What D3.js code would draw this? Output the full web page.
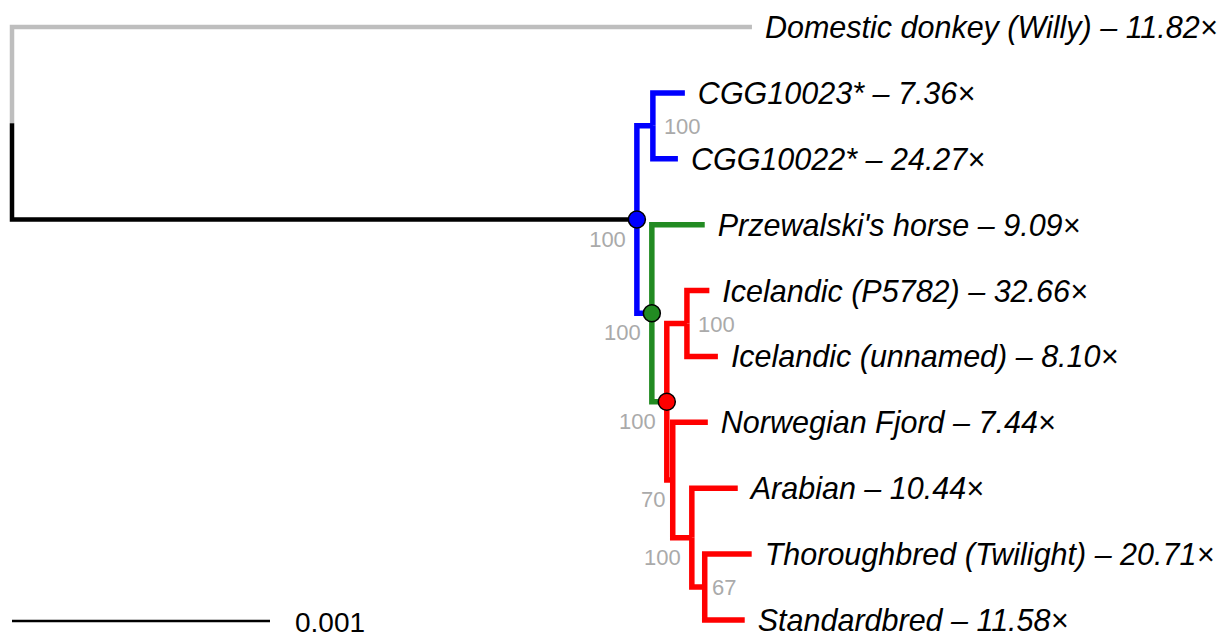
<!DOCTYPE html>
<html>
<head>
<meta charset="utf-8">
<script src="https://cdn.jsdelivr.net/npm/d3@7"></script>
<style>
  html, body { margin: 0; padding: 0; background: #fff; }
  svg { display: block; }
  .tip { font-family: "Liberation Sans", Arial, Helvetica, sans-serif; font-style: italic; }
  .support { font-family: "Liberation Sans", Arial, Helvetica, sans-serif; }
  .scale-text { font-family: "Liberation Sans", Arial, Helvetica, sans-serif; }
</style>
</head>
<body>
<svg id="tree" width="1231" height="637"></svg>
<script>
// Maximum-likelihood tree of whole horse genomes (branch lengths in substitutions/site)
const nodeIds = [
  "root", "donkey", "horses", "cgg", "cgg10023", "cgg10022",
  "caballus", "przewalski", "domestic", "icelandic", "icelandicP5782", "icelandicUnnamed",
  "n1", "norwegian", "n2", "arabian", "n3", "thoroughbred", "standardbred"
];
const parentIds = [
  "", "root", "root", "horses", "cgg", "cgg",
  "horses", "caballus", "caballus", "domestic", "icelandic", "icelandic",
  "domestic", "n1", "n1", "n2", "n2", "n3", "n3"
];
const branchLengths = [
  0, 0.002868, 0.002422, 0.000062, 0.000124, 0.000097,
  0.000058, 0.000205, 0.000058, 0.000078, 0.000087, 0.000120,
  0.000023, 0.000136, 0.000074, 0.000178, 0.000050, 0.000182, 0.000155
];
// branch group decides the colour of the edge leading into each node
const branchGroups = [
  "", "outgroup", "base", "horses", "horses", "horses",
  "horses", "caballus", "caballus", "domestic", "domestic", "domestic",
  "domestic", "domestic", "domestic", "domestic", "domestic", "domestic", "domestic"
];

// tips, top to bottom
const tipIds = ["donkey", "cgg10023", "cgg10022", "przewalski", "icelandicP5782",
  "icelandicUnnamed", "norwegian", "arabian", "thoroughbred", "standardbred"];
const tipNames = ["Domestic donkey (Willy)", "CGG10023*", "CGG10022*", "Przewalski's horse",
  "Icelandic (P5782)", "Icelandic (unnamed)", "Norwegian Fjord", "Arabian",
  "Thoroughbred (Twilight)", "Standardbred"];
const tipCoverage = ["11.82", "7.36", "24.27", "9.09", "32.66", "8.10", "7.44", "10.44", "20.71", "11.58"];

// bootstrap support on internal nodes
const supportIds = ["horses", "cgg", "caballus", "domestic", "icelandic", "n1", "n2", "n3"];
const supportValues = [100, 100, 100, 100, 100, 70, 100, 67];
const supportSide = ["left", "right", "left", "left", "right", "left", "left", "right"];

// clade roots marked with a dot, and the group whose colour fills the dot
const markedNodes = ["horses", "caballus", "domestic"];
const markedGroups = ["horses", "caballus", "domestic"];

const scaleBarLength = 0.001;

const groupColour = {
  outgroup: "#bebebe",
  base: "#000000",
  horses: "#0000ff",
  caballus: "#228b22",
  domestic: "#ff0000"
};

// ---- build hierarchy ----
const rows = nodeIds.map((id, i) => ({
  id, parent: parentIds[i] || null, length: branchLengths[i], group: branchGroups[i]
}));
const root = d3.stratify().id(d => d.id).parentId(d => d.parent)(rows);

// cumulative distance from root
root.eachBefore(n => { n.dist = n.parent ? n.parent.dist + n.data.length : 0; });

const leaves = root.leaves();
const x = d3.scaleLinear().domain([0, 0.001]).range([12, 270]);
const y = d3.scaleLinear().domain([0, leaves.length - 1]).range([27, 620]);

leaves.forEach((l, i) => { l.row = i; });
root.eachAfter(n => {
  if (n.children) n.row = d3.mean(n.children, c => c.row);
});
root.each(n => { n.px = x(n.dist); n.py = y(n.row); });

const svg = d3.select("#tree");

// ---- branches (elbow: vertical at parent, then horizontal to child) ----
const edges = root.descendants().filter(n => n.parent);
svg.append("g")
  .selectAll("path")
  .data(edges)
  .join("path")
  .attr("d", n => `M${n.parent.px},${n.parent.py}V${n.py}H${n.px}`)
  .attr("fill", "none")
  .attr("stroke", n => groupColour[n.data.group])
  .attr("stroke-width", n => (n.data.group === "outgroup" || n.data.group === "base") ? 4.5 : 5.5)
  .attr("stroke-linecap", "butt")
  .attr("stroke-linejoin", "miter");

// ---- clade markers ----
const nodeById = new Map(root.descendants().map(n => [n.id, n]));
svg.append("g")
  .selectAll("circle")
  .data(markedNodes.map((id, i) => ({ node: nodeById.get(id), group: markedGroups[i] })))
  .join("circle")
  .attr("cx", d => d.node.px)
  .attr("cy", d => d.node.py)
  .attr("r", 8.5)
  .attr("fill", d => groupColour[d.group])
  .attr("stroke", "#000")
  .attr("stroke-width", 1.5);

// ---- support values ----
const supportG = svg.append("g");
supportIds.forEach((id, i) => {
  const n = nodeById.get(id);
  const t = supportG.append("text")
    .attr("class", "support")
    .attr("font-size", 22)
    .attr("fill", "#aaaaaa")
    .text(supportValues[i]);
  const w = t.node().getComputedTextLength();
  if (supportSide[i] === "left") {
    t.attr("text-anchor", "end").attr("x", n.px - 0.3 * w).attr("y", n.py + 27);
  } else {
    t.attr("text-anchor", "start").attr("x", n.px + 0.3 * w).attr("y", n.py + 8);
  }
});

// ---- tip labels ----
svg.append("g")
  .selectAll("text")
  .data(tipIds.map((id, i) => ({ node: nodeById.get(id), name: tipNames[i], cov: tipCoverage[i] })))
  .join("text")
  .attr("class", "tip")
  .attr("font-size", 30.5)
  .attr("fill", "#000")
  .attr("x", d => d.node.px + 13)
  .attr("y", d => d.node.py + 11)
  .text(d => `${d.name} \u2013 ${d.cov}\u00d7`);

// ---- scale bar ----
const sb = svg.append("g");
sb.append("line")
  .attr("x1", x(0)).attr("x2", x(scaleBarLength))
  .attr("y1", 621).attr("y2", 621)
  .attr("stroke", "#000").attr("stroke-width", 2.5);
sb.append("text")
  .attr("class", "scale-text")
  .attr("x", x(scaleBarLength) + 25)
  .attr("y", 632)
  .attr("font-size", 28)
  .attr("fill", "#000")
  .text(scaleBarLength);
</script>
</body>
</html>
